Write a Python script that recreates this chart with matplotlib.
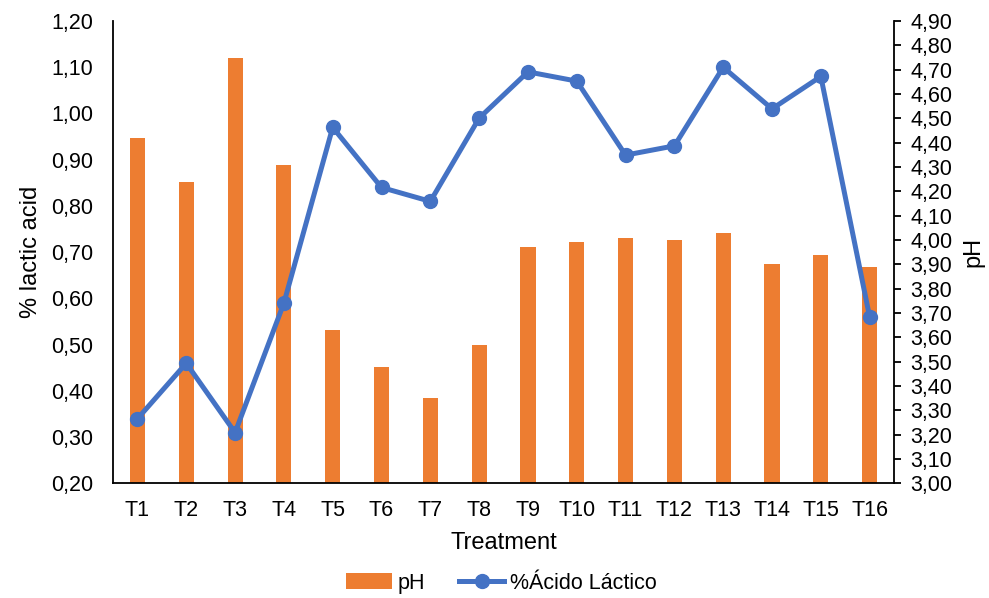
import matplotlib
matplotlib.use("Agg")
import matplotlib.pyplot as plt
from matplotlib.ticker import MultipleLocator, FuncFormatter
import numpy as np

plt.rcParams['font.family'] = ['Liberation Sans', 'DejaVu Sans']

treatments = ["T%d" % i for i in range(1, 17)]
ph = [4.42, 4.24, 4.75, 4.31, 3.63, 3.48, 3.35, 3.57,
      3.97, 3.99, 4.01, 4.00, 4.03, 3.90, 3.94, 3.89]
lactic = [0.34, 0.46, 0.31, 0.59, 0.97, 0.84, 0.81, 0.99,
          1.09, 1.07, 0.91, 0.93, 1.10, 1.01, 1.08, 0.56]

ORANGE = "#ED7D31"
BLUE = "#4472C4"
FS = 15.5
TFS = 17

def comma(v, pos):
    return ("%.2f" % v).replace(".", ",")

fig = plt.figure(figsize=(9.89, 5.98), dpi=100)
ax = fig.add_axes([0.1143, 0.1915, 0.7897, 0.7734])
ax2 = ax.twinx()

x = np.arange(len(treatments))
bars = ax2.bar(x, ph, width=0.31, color=ORANGE, label="pH")
line, = ax.plot(x, lactic, color=BLUE, lw=3.6, marker="o", ms=10,
                label="%Ácido Láctico")

# line drawn above the bars
ax.set_zorder(ax2.get_zorder() + 1)
ax.patch.set_visible(False)

ax.set_xlim(-0.5, 15.5)
ax.set_ylim(0.20, 1.20)
ax2.set_ylim(3.00, 4.90)
ax.yaxis.set_major_locator(MultipleLocator(0.1))
ax2.yaxis.set_major_locator(MultipleLocator(0.1))
ax.yaxis.set_major_formatter(FuncFormatter(comma))
ax2.yaxis.set_major_formatter(FuncFormatter(comma))

ax.set_xticks(x)
ax.set_xticklabels(treatments)

for a in (ax, ax2):
    a.spines['top'].set_visible(False)
    for s in a.spines.values():
        s.set_linewidth(1.3)
ax.spines['right'].set_visible(False)
ax2.spines['left'].set_visible(False)
ax2.spines['bottom'].set_visible(False)

ax.tick_params(axis='y', length=0, labelsize=FS, pad=14)
ax.tick_params(axis='x', length=0, labelsize=FS, pad=12)
ax2.tick_params(axis='y', length=5, width=1.3, direction='out', labelsize=FS, pad=7)

ax.set_xlabel("Treatment", fontsize=TFS, labelpad=8)
ax.set_ylabel("% lactic acid", fontsize=TFS, labelpad=7)
ax2.set_ylabel("pH", fontsize=TFS, rotation=90, labelpad=7)

fig.legend([bars, line], ["pH", "%Ácido Láctico"], loc="center",
           bbox_to_anchor=(0.507, 0.025), ncol=2, frameon=False,
           fontsize=FS, handlelength=2.1, columnspacing=1.6, handletextpad=0.25)

fig.savefig("out.png", dpi=100)
